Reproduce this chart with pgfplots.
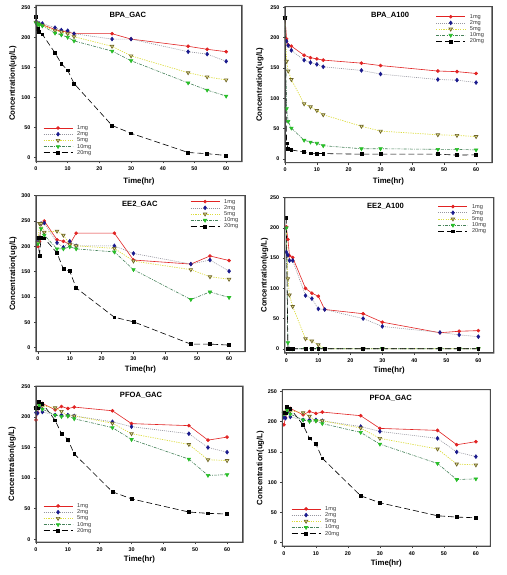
\documentclass[border=0pt]{standalone}
\usepackage{fontspec}
\setmainfont{Liberation Sans}
\usepackage{pgfplots}
\usepackage{pgfplotstable}
\pgfplotsset{compat=1.18}

\definecolor{cred}{RGB}{225,35,35}
\definecolor{cnavy}{RGB}{25,25,140}
\definecolor{cgrayl}{RGB}{150,150,160}
\definecolor{cyel}{RGB}{220,220,60}
\definecolor{colive}{RGB}{110,100,40}
\definecolor{cgrn}{RGB}{40,190,40}
\definecolor{cgrnl}{RGB}{70,130,90}

\pgfplotstableread{
t    a     b     c     d     e
0    225   225   225   224   234
0.5  223   224   223   222   214
1    222   223   221   221   209
2    221   223   220   219   205
6    213   216   211   207   174
8    210   212   209   204   156
10   209   211   206   200   145
12   206   206   201   194   123
24   206   197   185   177   53
30   197   197   169   161   40
48   185   176   141   124   8
54   180   172   134   112   6
60   176   160   129   102   3
}\bpagac

\pgfplotstableread{
t    a     b     c     d     e
0    233   233   233   233   233
0.5  198   194   161   83    26
1    188   187   145   62    17
2    186   179   131   51    15
6    171   163   91    31    11.5
8    167   159   86    28    9.5
10   165   156   80    26    9.3
12   163   152   73    22    9
24   158   146   54    17    8
30   154   140   46    17    8
48   145   131   40    16    8
54   144   130   39    16    6.5
60   141   126   37    15    7
}\bpaa

\pgfplotstableread{
t    a     b     c     d     e
0    200   208   207   205   217
0.5  210   215   245   215   181
1    245   245   245   235   217
2    250   246   228   222   216
6    213   207   230   195   187
8    210   198   222   195   155
10   204   210   204   199   151
12   226   201   201   195   118
24   226   201   196   189   60
30   173   186   171   154   51
48   165   165   154   95    7
54   181   173   140   110   7
60   172   151   135   99    5
}\eegac

\pgfplotstableread{
t    a     b     c     d     e
0    202   160   200   200   217
0.5  181   155   116   10    0
1    154   146   89    0     0
2    151   146   70    0     0
6    100   88    16.5  0     0
8    92    83    13    0     0
10   87    66    6.6   0     0
12   65    65    0     0     0
24   58    50    0     0     0
30   44    37    0     0     0
48   26.5  27    0     0     0
54   29    23    0     0     0
60   30    20    0     0     0
}\eea

\pgfplotstableread{
t    a     b     c     d     e
0    195   207   214   213   215
0.5  207   206   216   215   214
1    221   215   220   220   225
2    222   208   218   212.6 222
6    211.5 203   215   203   194.5
8    217   203   209   200.5 172.5
10   213.7 203   201.6 201.6 163
12   216   201.6 201.6 197   139.6
24   210   192   189.6 182.4 77.5
30   189   184   172.5 163   66
48   185.7 172.5 155   131   44.5
54   162   150   130   104.4 42.3
60   167   142.3 128.6 105.5 41.2
}\pfoa

\pgfplotsset{
  s1/.style={color=cred, solid, line width=0.6pt, mark=*, mark size=1.5pt, mark options={solid, fill=cred, draw=cred}},
  s2/.style={color=cgrayl, dash pattern=on 1pt off 1pt, line width=0.6pt, mark=diamond*, mark size=1.9pt, mark options={solid, fill=cnavy, draw=cnavy}},
  s3/.style={color=cyel, dash pattern=on 1.2pt off 1.2pt, line width=0.7pt, mark=triangle*, mark size=2pt, mark options={solid, rotate=180, fill=cyel!50!white, draw=colive}},
  s4/.style={color=cgrnl, dash pattern=on 3pt off 1.2pt on 0.8pt off 1.2pt, line width=0.6pt, mark=triangle*, mark size=2pt, mark options={solid, rotate=180, fill=cgrn, draw=cgrn}},
  s5/.style={color=black, dash pattern=on 6pt off 3pt, line width=0.6pt, mark=square*, mark size=1.4pt, mark options={solid, fill=black, draw=black}},
  panel/.style={
    scale only axis,
    anchor=south west,
    clip=false,
    axis line style={black!75, line width=1pt, solid},
    tick style={black!75, line width=0.5pt, solid},
    tick align=outside,
    major tick length=2pt,
    tick pos=left,
    xtick={0,10,20,30,40,50,60},
    /pgf/number format/assume math mode=true,
    ticklabel style={font=\fontsize{5.4}{6}\selectfont\bfseries},
    label style={font=\fontsize{7.8}{9}\selectfont\bfseries},
    xlabel={Time(hr)},
    ylabel={Concentration(ug/L)},
    legend cell align=left,
    legend image code/.code={\draw[mark repeat=2,mark phase=2,##1] plot coordinates {(0pt,0pt) (14.5pt,0pt) (29pt,0pt)};},
    legend style={anchor=north west, draw=none, fill=none, inner sep=0pt, row sep=0pt, column sep=4pt,
      font=\fontsize{5.6}{6}\selectfont, text=black!80,
      nodes={inner sep=0.3pt, text height=4.3pt, text depth=1.3pt}},
  },
}

\newcommand{\series}[1]{%
  \addplot[s1] table[x=t,y=a] {#1};
  \addplot[s2] table[x=t,y=b] {#1};
  \addplot[s3] table[x=t,y=c] {#1};
  \addplot[s4] table[x=t,y=d] {#1};
  \addplot[s5] table[x=t,y=e] {#1};
  \legend{1mg,2mg,5mg,10mg,20mg}
}

\newcommand{\frameit}[1]{%
  \fill[black!70, even odd rule]
    ([shift={(-0.55pt,-0.55pt)}]#1.south west) rectangle ([shift={(0.55pt,0.55pt)}]#1.north east)
    ([shift={(0.55pt,0.55pt)}]#1.south west) rectangle ([shift={(-0.55pt,-0.55pt)}]#1.north east);
}

\begin{document}
\begin{tikzpicture}
\path[use as bounding box] (0,0) rectangle (506pt,575pt);

% P1 BPA_GAC
\begin{axis}[panel, name=p1, at={(36pt,413.5pt)}, width=206pt, height=156pt,
  xmin=0, xmax=65, ymin=-7, ymax=253, ytick={0,50,...,250},
  xlabel style={at={(axis description cs:0.5,-0.128)}, anchor=center},
  ylabel style={at={(axis description cs:-0.112,0.5)}, anchor=center},
  legend style={at={(axis description cs:0.034,0.236)}}]
\series{\bpagac}
\node[font=\fontsize{7.6}{9}\selectfont\bfseries] at (axis cs:29,237) {BPA\_GAC};
\end{axis}

% P2 BPA_A100
\begin{axis}[panel, name=p2, at={(285pt,412.3pt)}, width=207pt, height=156pt,
  xmin=0, xmax=65, ymin=-6, ymax=251, ytick={0,50,...,250},
  xlabel style={at={(axis description cs:0.5,-0.122)}, anchor=center},
  ylabel style={at={(axis description cs:-0.122,0.5)}, anchor=center},
  legend style={at={(axis description cs:0.728,0.957)}}]
\series{\bpaa}
\node[font=\fontsize{7.6}{9}\selectfont\bfseries] at (axis cs:33,237) {BPA\_A100};
\end{axis}

% P3 EE2_GAC
\begin{axis}[panel, name=p3, at={(36pt,223.3pt)}, width=209pt, height=156pt,
  xmin=-0.6, xmax=65, ymin=-8, ymax=300, ytick={0,50,...,300},
  xlabel style={at={(axis description cs:0.5,-0.117)}, anchor=center},
  ylabel style={at={(axis description cs:-0.11,0.5)}, anchor=center},
  legend style={at={(axis description cs:0.737,0.983)}}]
\series{\eegac}
\node[font=\fontsize{7.6}{9}\selectfont\bfseries] at (axis cs:32,283) {EE2\_GAC};
\end{axis}

% P4 EE2_A100
\begin{axis}[panel, name=p4, at={(284.7pt,222pt)}, width=209pt, height=155.3pt,
  xmin=-0.5, xmax=64.8, ymin=-7, ymax=250, ytick={0,50,...,250},
  xlabel style={at={(axis description cs:0.5,-0.114)}, anchor=center},
  ylabel style={at={(axis description cs:-0.096,0.5)}, anchor=center},
  legend style={at={(axis description cs:0.733,0.964)}}]
\series{\eea}
\node[font=\fontsize{7.6}{9}\selectfont\bfseries] at (axis cs:31,235) {EE2\_A100};
\end{axis}

% P5 PFOA_GAC
\begin{axis}[panel, name=p5, at={(36pt,32.7pt)}, width=207pt, height=156pt,
  xmin=0, xmax=65, ymin=-5, ymax=250, ytick={0,50,...,250},
  xlabel style={at={(axis description cs:0.5,-0.113)}, anchor=center},
  ylabel style={at={(axis description cs:-0.115,0.5)}, anchor=center},
  legend style={at={(axis description cs:0.034,0.254)}}]
\series{\pfoa}
\node[font=\fontsize{7.6}{9}\selectfont\bfseries] at (axis cs:33,235) {PFOA\_GAC};
\end{axis}

% P6 PFOA_GAC
\begin{axis}[panel, name=p6, at={(282.3pt,28.7pt)}, width=208pt, height=156.6pt,
  xmin=-0.5, xmax=64.5, ymin=-6, ymax=253, ytick={0,50,...,250},
  xlabel style={at={(axis description cs:0.5,-0.109)}, anchor=center},
  ylabel style={at={(axis description cs:-0.106,0.5)}, anchor=center},
  legend style={at={(axis description cs:0.042,0.26)}}]
\series{\pfoa}
\node[font=\fontsize{7.6}{9}\selectfont\bfseries] at (axis cs:33.4,239) {PFOA\_GAC};
\end{axis}

\frameit{p1}
\frameit{p2}
\frameit{p3}
\frameit{p4}
\frameit{p5}
\frameit{p6}
\end{tikzpicture}
\end{document}
